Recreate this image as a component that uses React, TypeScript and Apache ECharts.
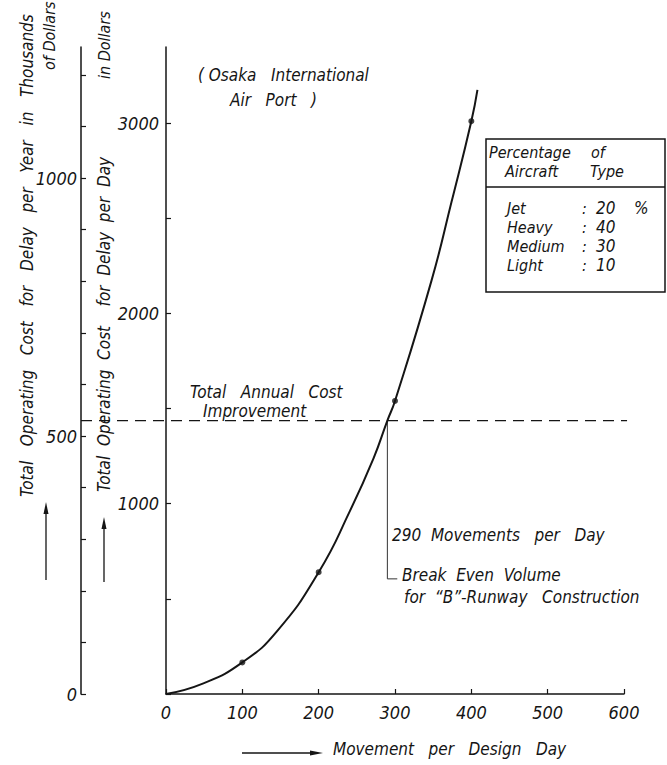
import React, { useEffect, useRef } from "react";
import * as echarts from "echarts";

// ---- data ----
const movementTicks = [0, 100, 200, 300, 400, 500, 600];
const curveMovements = [0, 49, 100, 145, 200, 241, 272, 290, 300, 348, 374, 400, 408];
const curveDailyCost = [0, 56, 166, 328, 640, 962, 1240, 1437, 1540, 2175, 2585, 3010, 3175];
const pointMovements = [100, 200, 300, 400];
const pointDailyCost = [166, 640, 1540, 3010];
const breakEvenMovements = 290;
const breakEvenDailyCost = 1437;
const leaderFootCost = 605;
const leaderFootMovement = 303;
const dashedLineEndMovement = 604;
const dayAxisMax = 3400;
const yearAxisMax = 1254;
const aircraftTypes = ["Jet", "Heavy", "Medium", "Light"];
const aircraftShares = ["20", "40", "30", "10"];

const FONT = '"DejaVu Sans Condensed", "DejaVu Sans", sans-serif';
const INK = "#151515";
const GRID_LEFT = 166;
const YEAR_AXIS_OFFSET = 85;

function txt(text: string, x: number, y: number, size = 17, extra: any = {}) {
  return {
    type: "text",
    x,
    y,
    rotation: extra.rotation || 0,
    style: {
      text,
      fill: INK,
      fontFamily: FONT,
      fontStyle: "italic",
      fontSize: size,
      align: extra.align || "left",
      verticalAlign: "middle",
      textAlign: extra.align || "left",
      textVerticalAlign: "middle",
    },
  };
}

function arrowUp(x: number, yBottom: number, yTip: number) {
  return [
    { type: "line", shape: { x1: x, y1: yBottom, x2: x, y2: yTip + 8 }, style: { stroke: INK, lineWidth: 1.3 } },
    { type: "polygon", shape: { points: [[x, yTip], [x - 2.5, yTip + 12], [x + 2.5, yTip + 12]] }, style: { fill: INK } },
  ];
}

export default function App() {
  const ref = useRef<HTMLDivElement>(null);
  useEffect(() => {
    if (!ref.current) return;
    const chart = echarts.init(ref.current, undefined, { renderer: "svg" });
    const axisLabelStyle = { color: INK, fontFamily: FONT, fontStyle: "italic", fontSize: 18 };
    chart.setOption({
      animation: false,
      backgroundColor: "#fff",
      grid: { left: GRID_LEFT, right: 43, top: 47, bottom: 71, containLabel: false, outerBoundsMode: "none" },
      xAxis: {
        type: "value",
        min: movementTicks[0],
        max: movementTicks[movementTicks.length - 1],
        interval: 100,
        axisLine: { show: true, onZero: false, lineStyle: { color: INK, width: 1.5 } },
        axisTick: { show: true, inside: true, length: 5, lineStyle: { color: INK, width: 1.2 } },
        axisLabel: { ...axisLabelStyle, margin: 9 },
        splitLine: { show: false },
      },
      yAxis: [
        {
          type: "value",
          position: "left",
          min: 0,
          max: dayAxisMax,
          interval: 500,
          axisLine: { show: true, onZero: false, lineStyle: { color: INK, width: 1.5 } },
          axisTick: { show: true, inside: true, length: 5, lineStyle: { color: INK, width: 1.2 } },
          axisLabel: {
            ...axisLabelStyle,
            margin: 7,
            showMaxLabel: false,
            formatter: (v: number) => (v > 0 && v % 1000 === 0 ? String(v) : ""),
          },
          splitLine: { show: false },
        },
        {
          type: "value",
          position: "left",
          offset: YEAR_AXIS_OFFSET,
          min: 0,
          max: yearAxisMax,
          interval: 100,
          axisLine: { show: true, onZero: false, lineStyle: { color: INK, width: 1.5 } },
          axisTick: { show: true, inside: true, length: 5, lineStyle: { color: INK, width: 1.2 } },
          axisLabel: {
            ...axisLabelStyle,
            margin: 4,
            showMaxLabel: false,
            formatter: (v: number) => (v % 500 === 0 ? String(v) : ""),
          },
          splitLine: { show: false },
        },
      ],
      series: [
        {
          type: "line",
          data: curveMovements.map((m, i) => [m, curveDailyCost[i]]),
          smooth: 0.5,
          showSymbol: false,
          lineStyle: { color: INK, width: 2 },
          z: 3,
        },
        {
          type: "scatter",
          data: pointMovements.map((m, i) => [m, pointDailyCost[i]]),
          symbol: "circle",
          symbolSize: 6,
          itemStyle: { color: INK },
          z: 4,
        },
        {
          type: "line",
          data: [
            [breakEvenMovements, breakEvenDailyCost],
            [breakEvenMovements, leaderFootCost],
            [leaderFootMovement, leaderFootCost],
          ],
          showSymbol: false,
          lineStyle: { color: "#333", width: 1 },
          z: 2,
        },
      ],
    });

    const yDash = chart.convertToPixel({ yAxisIndex: 0 }, breakEvenDailyCost) as number;
    const xDashEnd = chart.convertToPixel({ xAxisIndex: 0 }, dashedLineEndMovement) as number;
    const xOuter = GRID_LEFT - YEAR_AXIS_OFFSET;

    const graphics: any[] = [
      {
        type: "line",
        shape: { x1: xOuter, y1: yDash, x2: xDashEnd, y2: yDash },
        style: { stroke: INK, lineWidth: 1.3, lineDash: [11, 7] },
      },
      // outer axis title
      txt("Total   Operating   Cost   for   Delay   per   Year   in   Thousands", 27, 497, 17, { rotation: Math.PI / 2 }),
      txt("of Dollars", 49, 70, 16, { rotation: Math.PI / 2 }),
      // inner axis title
      txt("Total  Operating  Cost    for  Delay  per  Day", 104, 492, 17, { rotation: Math.PI / 2 }),
      txt("in Dollars", 104, 79, 16, { rotation: Math.PI / 2 }),
      ...arrowUp(46, 580, 502),
      ...arrowUp(104, 582, 517),
      // x title
      txt("Movement   per   Design   Day", 333, 749, 17),
      { type: "line", shape: { x1: 242, y1: 753, x2: 314, y2: 753 }, style: { stroke: INK, lineWidth: 1.3 } },
      { type: "polygon", shape: { points: [[323, 753], [310, 750.5], [310, 755.5]] }, style: { fill: INK } },
      // annotations
      txt("( Osaka   International", 198, 75, 17),
      txt("Air   Port   )", 230, 100, 17),
      txt("Total   Annual   Cost", 190, 392, 17),
      txt("Improvement", 203, 411, 17),
      txt("290  Movements   per   Day", 392, 535, 17),
      txt("Break  Even  Volume", 402, 575, 17),
      txt("for  \u201CB\u201D-Runway   Construction", 404, 597, 17),
      // legend box
      { type: "rect", shape: { x: 486, y: 139, width: 179, height: 153 }, style: { fill: "none", stroke: INK, lineWidth: 1.5 } },
      { type: "line", shape: { x1: 486, y1: 187, x2: 665, y2: 187 }, style: { stroke: INK, lineWidth: 1.3 } },
      txt("Percentage", 489, 152, 16),
      txt("of", 591, 152, 16),
      txt("Aircraft", 505, 171, 16),
      txt("Type", 590, 171, 16),
      txt("%", 634, 208, 17),
    ];
    const rowY = [208, 227, 246, 265];
    aircraftTypes.forEach((t, i) => {
      graphics.push(txt(t, 507, rowY[i], 16));
      graphics.push(txt(":", 582, rowY[i], 16));
      graphics.push(txt(aircraftShares[i], 596, rowY[i], 17));
    });
    chart.setOption({ graphic: graphics });
    return () => chart.dispose();
  }, []);
  return <div ref={ref} style={{ width: 667, height: 765, position: "absolute", left: 0, top: 0 }} />;
}
